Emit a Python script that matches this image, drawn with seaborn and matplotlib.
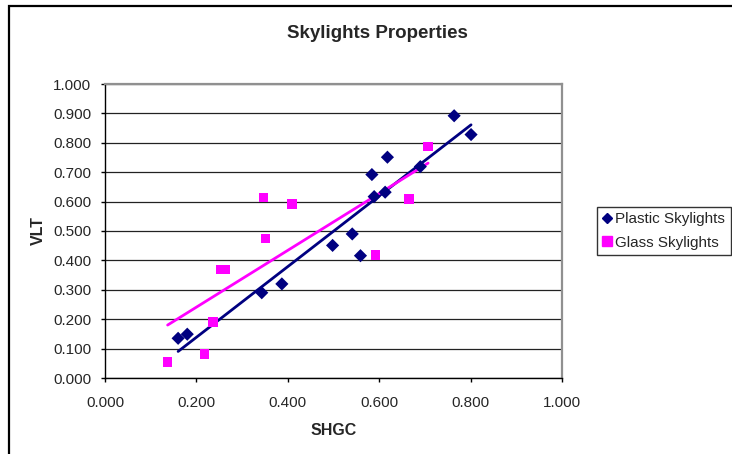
import numpy as np
import pandas as pd
import matplotlib
matplotlib.use("Agg")
import matplotlib.pyplot as plt
import seaborn as sns
from matplotlib.lines import Line2D
from matplotlib.patches import Rectangle

# Skylight measurements: solar heat gain coefficient vs. visible light transmittance
plastic_shgc = [0.160, 0.180, 0.343, 0.387, 0.498, 0.541, 0.559, 0.584, 0.589,
                0.613, 0.618, 0.690, 0.764, 0.801]
plastic_vlt = [0.135, 0.149, 0.290, 0.320, 0.451, 0.490, 0.416, 0.692, 0.617,
               0.632, 0.751, 0.719, 0.892, 0.828]

glass_shgc = [0.137, 0.218, 0.236, 0.252, 0.263, 0.347, 0.351, 0.409, 0.592,
              0.665, 0.707]
glass_vlt = [0.054, 0.082, 0.190, 0.370, 0.370, 0.615, 0.474, 0.592, 0.418,
             0.609, 0.787]

series_names = ["Plastic Skylights", "Glass Skylights"]
x_ticks = [0.0, 0.2, 0.4, 0.6, 0.8, 1.0]
y_ticks = [0.0, 0.1, 0.2, 0.3, 0.4, 0.5, 0.6, 0.7, 0.8, 0.9, 1.0]

df = pd.DataFrame({
    "SHGC": plastic_shgc + glass_shgc,
    "VLT": plastic_vlt + glass_vlt,
    "Type": [series_names[0]] * len(plastic_shgc) + [series_names[1]] * len(glass_shgc),
})

sns.set_style("white")
plt.rcParams["font.family"] = ["Liberation Sans", "DejaVu Sans"]

W, H = 732, 454
fig = plt.figure(figsize=(W / 100, H / 100), dpi=100)
ax = fig.add_axes([105 / W, 1 - 378 / H, (562 - 105) / W, (378 - 84) / H])

navy = "#000080"
magenta = "#FF00FF"

# chart-area frame
fig.patches.append(Rectangle((9 / W, -0.1), 1.2, 1 - 6 / H + 0.1, transform=fig.transFigure,
                             fill=False, edgecolor="black", linewidth=1.6, zorder=0))

# linear trendlines
sns.regplot(data=df[df.Type == series_names[0]], x="SHGC", y="VLT", ax=ax,
            scatter=False, ci=None, truncate=True,
            line_kws={"color": navy, "lw": 2.0, "zorder": 3})
sns.regplot(data=df[df.Type == series_names[1]], x="SHGC", y="VLT", ax=ax,
            scatter=False, ci=None, truncate=True,
            line_kws={"color": magenta, "lw": 2.0, "zorder": 3})

# points
sns.scatterplot(data=df, x="SHGC", y="VLT", hue="Type", style="Type",
                palette={series_names[0]: navy, series_names[1]: magenta},
                markers={series_names[0]: "D", series_names[1]: "s"},
                s=45, linewidth=0, ax=ax, legend=False, zorder=4)

ax.set_xlim(0, 1)
ax.set_ylim(0, 1)
ax.set_xticks(x_ticks)
ax.set_yticks(y_ticks)
ax.set_xticklabels([f"{v:.3f}" for v in x_ticks])
ax.set_yticklabels([f"{v:.3f}" for v in y_ticks])
ax.tick_params(axis="both", direction="out", length=3, width=1, color="black",
               labelsize=11, left=True, bottom=True)
ax.tick_params(axis="y", pad=7)
ax.tick_params(axis="x", pad=10)
ax.yaxis.grid(True, color="#222222", linewidth=0.9)
ax.set_axisbelow(True)
for side in ("left", "bottom"):
    ax.spines[side].set_color("black")
    ax.spines[side].set_linewidth(1)
for side in ("top", "right"):
    ax.spines[side].set_color("#909090")
    ax.spines[side].set_linewidth(1.6)

ax.set_xlabel("SHGC", fontsize=11.5, fontweight="bold", labelpad=9)
ax.set_ylabel("VLT", fontsize=11.5, fontweight="bold", labelpad=5)

fig.text(377 / W, 1 - 33 / H, "Skylights Properties", ha="center", va="center",
         fontsize=13.5, fontweight="bold")

handles = [
    Line2D([], [], marker="D", color=navy, linestyle="none", markersize=5),
    Line2D([], [], marker="s", color=magenta, linestyle="none", markersize=7),
]
leg = fig.legend(handles, series_names, loc="upper left",
                 bbox_to_anchor=(597 / W, 1 - 207 / H), fontsize=11,
                 frameon=True, fancybox=False, borderpad=0.35, handlelength=0.6,
                 handletextpad=0.25, labelspacing=0.6, borderaxespad=0)
leg.get_frame().set_edgecolor("black")
leg.get_frame().set_linewidth(1)

fig.savefig("out.png", dpi=100)
